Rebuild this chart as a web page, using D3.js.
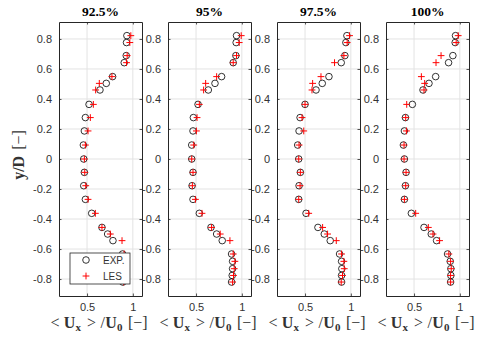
<!DOCTYPE html>
<html><head><meta charset="utf-8">
<script src="https://cdn.jsdelivr.net/npm/d3@7"></script>
<style>body{margin:0;background:#fff}svg{display:block}</style>
</head><body>
<svg id="c" width="481" height="340"></svg>
<script>
const titles = ["92.5%", "95%", "97.5%", "100%"];
const yPos = [0.822, 0.776, 0.689, 0.642, 0.549, 0.504, 0.46, 0.364, 0.276, 0.187, 0.093, 0.0, -0.089, -0.178, -0.269, -0.362, -0.456, -0.5, -0.544, -0.633, -0.682, -0.731, -0.776, -0.82];
const exp925 = [0.935, 0.931, 0.928, 0.906, 0.779, 0.71, 0.641, 0.522, 0.482, 0.471, 0.46, 0.464, 0.471, 0.464, 0.482, 0.551, 0.663, 0.725, 0.783, 0.888, 0.9, 0.9, 0.895, 0.89];
const les925 = [0.978, 0.967, 0.938, 0.931, 0.772, 0.634, 0.594, 0.569, 0.536, 0.511, 0.482, 0.471, 0.475, 0.486, 0.511, 0.591, 0.663, 0.754, 0.882, 0.905, 0.92, 0.915, 0.905, 0.9];
const exp95 = [0.942, 0.938, 0.935, 0.906, 0.779, 0.707, 0.634, 0.522, 0.471, 0.467, 0.453, 0.453, 0.467, 0.457, 0.467, 0.536, 0.663, 0.725, 0.786, 0.888, 0.899, 0.899, 0.895, 0.888];
const les95 = [0.993, 0.971, 0.942, 0.906, 0.725, 0.605, 0.583, 0.536, 0.511, 0.504, 0.475, 0.453, 0.467, 0.46, 0.493, 0.565, 0.67, 0.764, 0.87, 0.906, 0.924, 0.917, 0.909, 0.899];
const exp975 = [0.957, 0.946, 0.935, 0.895, 0.761, 0.688, 0.62, 0.5, 0.446, 0.435, 0.42, 0.431, 0.449, 0.435, 0.431, 0.511, 0.641, 0.71, 0.775, 0.877, 0.899, 0.902, 0.899, 0.899];
const les975 = [0.986, 0.96, 0.924, 0.822, 0.674, 0.583, 0.576, 0.5, 0.467, 0.486, 0.435, 0.431, 0.449, 0.446, 0.431, 0.54, 0.692, 0.746, 0.841, 0.899, 0.924, 0.928, 0.909, 0.895];
const exp100 = [0.953, 0.949, 0.924, 0.877, 0.736, 0.663, 0.598, 0.482, 0.406, 0.395, 0.384, 0.395, 0.413, 0.406, 0.395, 0.471, 0.609, 0.688, 0.746, 0.866, 0.895, 0.902, 0.902, 0.899];
const les100 = [0.982, 0.96, 0.795, 0.74, 0.58, 0.616, 0.609, 0.42, 0.409, 0.417, 0.391, 0.391, 0.413, 0.409, 0.395, 0.518, 0.656, 0.707, 0.779, 0.88, 0.899, 0.906, 0.899, 0.899];
const expSeries = [exp925, exp95, exp975, exp100];
const lesSeries = [les925, les95, les975, les100];
const xTicks = [0.5, 1];
const yTicks = [-0.8, -0.6, -0.4, -0.2, 0, 0.2, 0.4, 0.6, 0.8];
const legendLabels = ["EXP.", "LES"];

const svg = d3.select("#c");
const W = 83, pTop = 22, pBottom = 296;
const panelX = d3.scaleLinear().domain([0, 3]).range([59, 386]);
const x = d3.scaleLinear().domain([0.194, 1.1]).range([0, W]);
const y = d3.scaleLinear().domain([-0.913, 0.913]).range([pBottom, pTop]);
const axisCol = "#262626", gridCol = "#e3e3e3", textCol = "#333";
const serif = "Liberation Serif, Times New Roman, serif";
const plus = (px, py, s) => `M${px - s},${py}H${px + s}M${px},${py - s}V${py + s}`;

titles.forEach((t, i) => {
  const g = svg.append("g").attr("transform", `translate(${panelX(i)},0)`);
  g.selectAll(".gx").data(xTicks).join("line").attr("class", "gx")
    .attr("x1", d => x(d)).attr("x2", d => x(d)).attr("y1", pTop).attr("y2", pBottom)
    .attr("stroke", gridCol).attr("stroke-width", 1);
  g.selectAll(".gy").data(yTicks).join("line").attr("class", "gy")
    .attr("x1", 0).attr("x2", W).attr("y1", d => y(d)).attr("y2", d => y(d))
    .attr("stroke", gridCol).attr("stroke-width", 1);
  const ax = g.append("g").attr("transform", `translate(0,${pBottom})`)
    .call(d3.axisBottom(x).tickValues(xTicks).tickFormat(d3.format("")).tickSizeInner(-2.5).tickSizeOuter(0).tickPadding(7));
  const axT = g.append("g").attr("transform", `translate(0,${pTop})`)
    .call(d3.axisTop(x).tickValues(xTicks).tickFormat("").tickSizeInner(-2.5).tickSizeOuter(0));
  const ay = g.append("g")
    .call(d3.axisLeft(y).tickValues(yTicks).tickFormat(d3.format("")).tickSizeInner(-2.5).tickSizeOuter(0).tickPadding(7));
  const ayR = g.append("g").attr("transform", `translate(${W},0)`)
    .call(d3.axisRight(y).tickValues(yTicks).tickFormat("").tickSizeInner(-2.5).tickSizeOuter(0));
  [ax, axT, ay, ayR].forEach(a => {
    a.select(".domain").attr("stroke", axisCol).attr("stroke-width", 1);
    a.selectAll(".tick line").attr("stroke", axisCol).attr("stroke-width", 0.8);
    a.selectAll("text").attr("fill", textCol).attr("font-family", "Liberation Sans, Arial, sans-serif").attr("font-size", 11);
  });
  ay.selectAll("text").text(d => d === 0 ? "0" : (d < 0 ? "-" : "") + Math.abs(d).toFixed(1));
  g.append("text").attr("x", W / 2).attr("y", 15.5).attr("text-anchor", "middle")
    .attr("font-family", serif).attr("font-weight", "bold")
    .attr("font-size", 13.5).attr("fill", "#000").text(t);
  const ex = expSeries[i], le = lesSeries[i];
  g.selectAll(".exp").data(yPos).join("circle").attr("class", "exp")
    .attr("cx", (d, k) => x(ex[k])).attr("cy", d => y(d)).attr("r", 3.3)
    .attr("fill", "none").attr("stroke", "#000").attr("stroke-width", 0.8);
  g.selectAll(".les").data(yPos).join("path").attr("class", "les")
    .attr("d", (d, k) => plus(x(le[k]), y(d), 3.4))
    .attr("fill", "none").attr("stroke", "#ff0000").attr("stroke-width", 1);
  // x label (LaTeX-like)
  const xl = g.append("text").attr("x", W / 2 - 1.5).attr("y", 328).attr("text-anchor", "middle")
    .attr("font-family", serif).attr("font-size", 16).attr("fill", textCol);
  xl.append("tspan").text("<");
  xl.append("tspan").attr("dx", 4.4).attr("font-weight", "bold").text("U");
  xl.append("tspan").attr("font-weight", "bold").attr("font-size", 11).attr("dy", 2.5).text("x");
  xl.append("tspan").attr("dx", 6).attr("dy", -2.5).text(">");
  xl.append("tspan").attr("dx", 4.5).text("/");
  xl.append("tspan").attr("dx", 0.5).attr("font-weight", "bold").text("U");
  xl.append("tspan").attr("font-weight", "bold").attr("font-size", 11).attr("dy", 2.5).text("0");
  xl.append("tspan").attr("dx", 5.5).attr("dy", -2.5).text("[\u2212]");

  if (i === 0) {
    const lg = g.append("g").attr("transform", `translate(${70 - panelX(0)},253)`);
    lg.append("rect").attr("width", 60).attr("height", 31).attr("fill", "#fff")
      .attr("stroke", axisCol).attr("stroke-width", 0.8);
    legendLabels.forEach((l, k) => {
      const ly = 7 + k * 16;
      if (k === 0) lg.append("circle").attr("cx", 16).attr("cy", ly).attr("r", 3.3)
        .attr("fill", "none").attr("stroke", "#000").attr("stroke-width", 0.8);
      else lg.append("path").attr("d", plus(16, ly, 3.4)).attr("stroke", "#ff0000").attr("stroke-width", 1);
      lg.append("text").attr("x", 33).attr("y", ly).attr("dy", "0.35em")
        .attr("font-family", "Liberation Sans, Arial, sans-serif").attr("font-size", 10)
        .attr("fill", textCol).text(l);
    });
  }
});
const yl = svg.append("text").attr("transform", "translate(23.5,155) rotate(-90)").attr("text-anchor", "middle")
  .attr("font-family", serif).attr("font-size", 16).attr("fill", textCol);
yl.append("tspan").attr("font-weight", "bold").text("y/D");
yl.append("tspan").attr("dx", 6).text("[\u2212]");
</script>
</body></html>
